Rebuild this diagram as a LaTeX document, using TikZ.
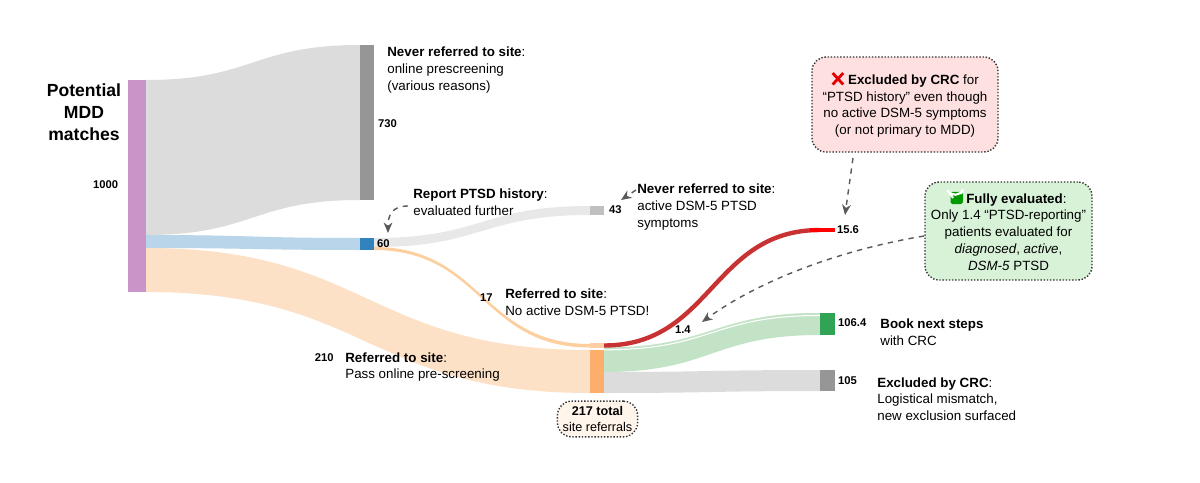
\documentclass[tikz,border=0pt]{standalone}
\usepackage{fontspec}
\setmainfont{Liberation Sans}
\usetikzlibrary{arrows.meta}
\definecolor{lgray}{HTML}{DCDCDC}
\definecolor{vlgray}{HTML}{E8E8E8}
\definecolor{dgray}{HTML}{969696}
\definecolor{purp}{HTML}{C994C7}
\definecolor{lblue}{HTML}{B9D5EA}
\definecolor{dblue}{HTML}{3182BD}
\definecolor{lorange}{HTML}{FDE1C6}
\definecolor{dorange}{HTML}{FDAE6B}
\definecolor{lgreen}{HTML}{C3E3C6}
\definecolor{dgreen}{HTML}{31A354}
\definecolor{dred}{HTML}{C83232}
\newcommand\sband[7]{\fill[#7] (#1,#2) .. controls ({(#1+#4)/2},#2) and ({(#1+#4)/2},#5) .. (#4,#5) -- (#4,#6) .. controls ({(#1+#4)/2},#6) and ({(#1+#4)/2},#3) .. (#1,#3) -- cycle;}
\newcommand\myx{\tikz[baseline=0pt,x=1pt,y=1pt]{\draw[red!90!black,line width=1.6pt] (0.5,0) -- (6.5,6.5) (6.5,0) -- (0.5,6.5);}\hspace{2pt}}
\newcommand\mycheck{\tikz[baseline=0pt,x=1pt,y=1pt]{\fill[green!60!black,rounded corners=1pt] (0,-0.5) rectangle (7,6.5);\draw[white,line width=1.2pt] (1.5,3) -- (3,1) -- (5.7,5.3);}\hspace{2pt}}
\tikzset{
 lab/.style={anchor=west,font=\fontsize{7.6}{9.5}\selectfont,inner sep=0pt,align=left},
 num/.style={anchor=west,font=\fontsize{6.4}{7}\selectfont\bfseries,inner sep=1pt},
 callout/.style={draw=black!80,densely dotted,thick,rounded corners=8pt,align=center,font=\fontsize{7.6}{9.5}\selectfont,inner sep=3pt},
 darr/.style={dashed,draw=black!65,thick,-{Stealth[length=6pt,width=5pt]}}
}
\begin{document}
\begin{tikzpicture}[x=0.02cm,y=-0.02cm]
\useasboundingbox[fill=white] (0,0) rectangle (1200,483);
% bands
\sband{146}{80}{235}{360}{45}{200}{lgray}
\sband{146}{235}{248}{360}{238}{250}{lblue}
\sband{146}{248}{292}{590}{350}{393}{lorange}
\sband{374}{238}{247}{590}{206}{215}{vlgray}
\sband{374}{247}{250}{590}{344}{347.5}{lorange!80!orange}
\sband{604}{350}{372}{820}{313}{335}{lgreen}
\sband{604}{347.5}{350}{820}{313}{315.5}{lgreen}
\draw[white,line width=0.6pt] (604,349.8) .. controls (712,349.8) and (712,315.5) .. (820,315.5);
\sband{604}{372}{393}{820}{370}{391}{lgray}
\draw[dred,line width=2.5pt] (604,345.5) .. controls (712,345.5) and (712,230) .. (820,230);
\draw[red,line width=2.5pt] (810,230) -- (835,230);
% nodes
\fill[purp] (128,80) rectangle (146,292) coordinate (src);
\fill[dgray] (360,45) rectangle (374,200);
\fill[dblue] (360,238) rectangle (374,250);
\fill[lgray!70!gray] (590,206) rectangle (604,215);
\fill[dorange!60] (590,343) rectangle (604,348);
\fill[dorange] (590,350) rectangle (604,393);
\fill[dgreen] (820,313) rectangle (835,335);
\fill[dgray] (820,370) rectangle (835,391);
% labels
\node[font=\fontsize{10}{12.5}\selectfont\bfseries,align=center,inner sep=0pt] (pot) at (84,112) {Potential\\MDD\\matches};
\node[num] (n1000) at (91,185) {1000};
\node[lab] (l730) at (387,70) {\textbf{Never referred to site}:\\online prescreening\\(various reasons)};
\node[num] (n730) at (376,124) {730};
\node[lab] (lrep) at (413,202) {\textbf{Report PTSD history}:\\evaluated further};
\node[num] (n60) at (375,244) {60};
\node[num] (n43) at (607,210) {43};
\node[lab] (l43) at (637,207) {\textbf{Never referred to site}:\\active DSM-5 PTSD\\symptoms};
\node[num] (n17) at (478,298) {17};
\node[lab] (l17) at (505,302) {\textbf{Referred to site}:\\No active DSM-5 PTSD!};
\node[num] (n14) at (673,330) {1.4};
\node[num,fill=white,inner sep=2pt] (n210) at (311,358) {210};
\node[lab] (l210) at (345,367) {\textbf{Referred to site}:\\Pass online pre-screening};
\node[num] (n156) at (835,230) {15.6};
\node[num] (n1064) at (836,323) {106.4};
\node[lab] (lbook) at (880,332) {\textbf{Book next steps}\\with CRC};
\node[num] (n105) at (836,381) {105};
\node[lab] (lexc) at (877,399) {\textbf{Excluded by CRC}:\\Logistical mismatch,\\new exclusion surfaced};
\node[callout,fill=orange!8,font=\fontsize{7.2}{9}\selectfont] (tot) at (597.5,419) {\textbf{217 total}\\site referrals};
\node[callout,fill=red!12,minimum width=186*0.02cm,minimum height=95*0.02cm] (red) at (905,104.5) {\myx\textbf{Excluded by CRC} for\\``PTSD history'' even though\\no active DSM-5 symptoms\\(or not primary to MDD)};
\node[callout,fill=green!12!white!90!gray,minimum width=167*0.02cm,minimum height=98*0.02cm] (grn) at (1008.5,231) {\mycheck\textbf{Fully evaluated}:\\Only 1.4 ``PTSD-reporting''\\patients evaluated for\\\textit{diagnosed}, \textit{active},\\\textit{DSM-5} PTSD};
% arrows
\draw[darr] (853,158) -- (845,215);
\draw[darr] (924,236) .. controls (840,250) and (760,280) .. (702,322);
\draw[darr] (408,206) .. controls (392,206) and (388,215) .. (388,233);
\draw[darr] (636,190) -- (621,200);
\end{tikzpicture}
\end{document}
